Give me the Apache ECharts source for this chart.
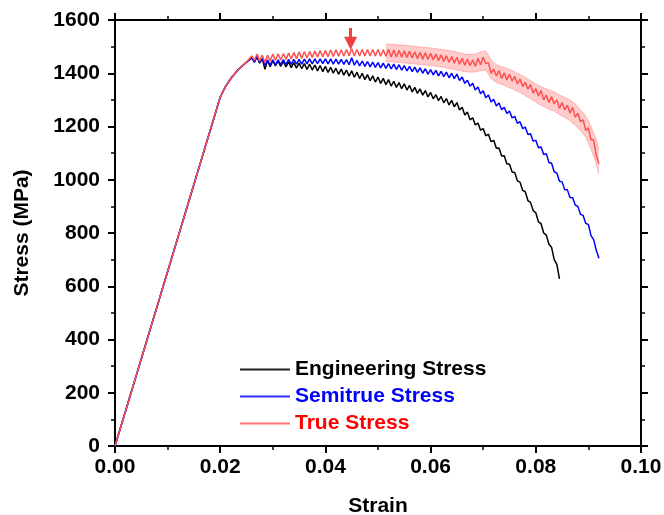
<!DOCTYPE html>
<html>
<head>
<meta charset="utf-8">
<script src="https://cdn.jsdelivr.net/npm/echarts@6/dist/echarts.min.js"></script>
<style>html,body{margin:0;padding:0;background:#fff}#c{width:664px;height:515px}</style>
</head>
<body>
<div id="c"></div>
<script>
// Elastic + transition part (shared by all three curves)
const elasticStrain = [0, 0.0200, 0.0210, 0.0222, 0.0235, 0.0248];
const elasticStress = [0, 1310, 1350, 1385, 1415, 1438];

// Serrated plastic region strain grid
const strain = [
0.026,0.0265,0.027,0.0275,0.028,0.0285,0.029,0.0295,
0.030,0.0305,0.031,0.0315,0.032,0.0325,0.033,0.0335,0.034,0.0345,0.035,0.0355,0.036,0.0365,0.037,0.0375,0.038,0.0385,0.039,0.0395,
0.040,0.0405,0.041,0.0415,0.042,0.0425,0.043,0.0435,0.044,0.0445,0.045,0.0455,0.046,0.0465,0.047,0.0475,0.048,0.0485,0.049,0.0495,
0.050,0.0505,0.051,0.0515,0.052,0.0525,0.053,0.0535,0.054,0.0545,0.055,0.0555,0.056,0.0565,0.057,0.0575,0.058,0.0585,0.059,0.0595,
0.060,0.0605,0.061,0.0615,0.062,0.0625,0.063,0.0635,0.064,0.0645,0.065,0.0655,0.066,0.0665,0.067,0.0675,0.068,0.0685,0.069,0.0695,
0.070,0.0705,0.071,0.0715,0.072,0.0725,0.073,0.0735,0.074,0.0745,0.075,0.0755,0.076,0.0765,0.077,0.0775,0.078,0.0785,0.079,0.0795,
0.080,0.0805,0.081,0.0815,0.082,0.0825,0.083,0.0835,0.084,0.0845,0.085,0.0855,0.086,0.0865,0.087,0.0875,0.088,0.0885,0.089,0.0895,
0.090,0.0905,0.091,0.0915,0.092];

const engStress = [
1458,1442,1462,1438,1455,1415,1448,1425,1447,1428,
1446,1426,1445,1424,1443,1421,1440,1419,1438,1417,
1436,1414,1434,1412,1431,1409,1429,1406,1426,1403,
1422,1400,1419,1396,1416,1393,1412,1389,1409,1385,
1404,1380,1400,1376,1395,1372,1390,1367,1386,1362,
1381,1357,1376,1352,1370,1347,1365,1342,1360,1337,
1354,1330,1347,1324,1341,1318,1335,1311,1328,1304,
1320,1297,1313,1289,1305,1281,1298,1274,1290,1262,
1272,1243,1254,1225,1233,1206,1213,1186,1192,1165,
1171,1143,1148,1118,1119,1089,1090,1060,1058,1029,
1027,996,991,960,955,922,915,884,876,842,
835,800,792,758,746,700,682,628];

const semiStress = [
1460,1442,1466,1440,1455,1428,1450,1430,1450,1431,
1450,1432,1451,1432,1452,1433,1452,1434,1452,1434,
1453,1435,1454,1435,1454,1436,1454,1436,1454,1435,
1454,1434,1453,1434,1452,1433,1451,1432,1458,1430,
1448,1428,1446,1426,1444,1424,1442,1422,1440,1420,
1438,1418,1436,1416,1434,1414,1432,1412,1429,1409,
1426,1406,1423,1403,1420,1400,1417,1397,1414,1394,
1411,1390,1407,1387,1404,1383,1400,1380,1397,1373,
1386,1362,1374,1351,1362,1337,1348,1323,1334,1308,
1318,1292,1302,1277,1288,1263,1272,1249,1258,1232,
1238,1212,1218,1192,1198,1170,1173,1145,1148,1120,
1123,1095,1098,1065,1062,1030,1025,994,992,962,
962,933,932,905,900,870,866,836,832,790,
775,735,705];

const trueStress = [
1465,1448,1472,1445,1468,1440,1468,1446,1472,1449,
1473,1450,1474,1452,1476,1454,1478,1455,1480,1456,
1481,1457,1482,1459,1484,1460,1485,1461,1486,1462,
1487,1463,1488,1464,1488,1465,1489,1466,1492,1465,
1489,1465,1489,1465,1489,1465,1489,1465,1489,1464,
1488,1464,1490,1461,1487,1461,1486,1460,1484,1459,
1483,1457,1481,1455,1479,1453,1477,1452,1475,1450,
1472,1447,1469,1444,1466,1441,1463,1438,1460,1434,
1456,1430,1453,1428,1450,1426,1456,1432,1460,1436,
1440,1400,1415,1390,1410,1380,1402,1375,1396,1370,
1388,1360,1378,1350,1366,1340,1358,1325,1342,1315,
1335,1300,1318,1290,1312,1285,1300,1268,1290,1262,
1280,1250,1272,1235,1250,1218,1225,1185,1195,1150,
1150,1090,1060];

// Scatter band around the true stress curve
const bandStrain = [0.0515,0.0525,0.0535,0.0545,0.0555,0.0565,0.0575,0.0585,0.0595,0.0605,0.0615,0.0625,0.0635,0.0645,0.0655,0.0665,0.0675,0.0685,0.0695,0.0705,0.0715,0.0725,0.0735,0.0745,0.0755,0.0765,0.0775,0.0785,0.0795,0.0805,0.0815,0.0825,0.0835,0.0845,0.0855,0.0865,0.0875,0.0885,0.0895,0.0905,0.0915,0.092];
const bandLow  = [1444,1443,1441,1440,1438,1436,1434,1432,1430,1428,1425,1422,1418,1415,1410,1406,1404,1405,1410,1412,1380,1365,1358,1350,1342,1332,1322,1310,1298,1285,1275,1265,1258,1245,1235,1222,1205,1185,1160,1115,1060,1020];
const bandHigh = [1510,1509,1507,1506,1504,1502,1500,1498,1496,1494,1491,1488,1485,1482,1477,1472,1470,1472,1480,1484,1450,1432,1425,1418,1410,1400,1390,1378,1366,1354,1345,1338,1330,1318,1310,1300,1285,1262,1240,1200,1150,1115];

// Arrow marker (strain, stress top, stress head)
const arrowStrain = 0.0448;
const arrowTop = 1570;
const arrowEnd = 1513;

const seriesNames = ['Engineering Stress', 'Semitrue Stress', 'True Stress'];
const lineColors = ['#000000', '#0000ff', '#ff5050'];
const legendColors = ['#222222', '#3030ff', '#ff7070'];
const textColors = ['#000000', '#0000ff', '#ff0000'];

function build(vals) {
  const d = [];
  for (let i = 0; i < elasticStrain.length; i++) d.push([elasticStrain[i], elasticStress[i]]);
  for (let i = 0; i < vals.length; i++) d.push([strain[i], vals[i]]);
  return d;
}
const bandData = bandStrain.map((x, i) => [x, bandLow[i], bandHigh[i]]);

function renderBand(params, api) {
  if (params.dataIndex !== 0) return null;
  const upper = [], lower = [];
  for (let i = 0; i < bandData.length; i++) {
    upper.push(api.coord([bandData[i][0], bandData[i][2]]));
    lower.push(api.coord([bandData[i][0], bandData[i][1]]));
  }
  const poly = upper.concat(lower.slice().reverse());
  return {
    type: 'group',
    children: [
      { type: 'polygon', shape: { points: poly }, style: { fill: 'rgba(255,120,120,0.38)', stroke: null } },
      { type: 'polyline', shape: { points: upper }, style: { stroke: 'rgba(255,110,110,0.55)', lineWidth: 0.8, fill: null } },
      { type: 'polyline', shape: { points: lower }, style: { stroke: 'rgba(255,110,110,0.55)', lineWidth: 0.8, fill: null } }
    ]
  };
}

const FONT = '"Liberation Sans", Arial, sans-serif';
const axisCommon = {
  axisLine: { show: true, onZero: false, lineStyle: { color: '#000', width: 2 } },
  axisTick: { show: true, inside: false, length: 7, lineStyle: { color: '#000', width: 2 } },
  minorTick: { show: true, splitNumber: 2, length: 4, lineStyle: { color: '#000', width: 1.5 } },
  splitLine: { show: false },
  minorSplitLine: { show: false }
};

const chart = echarts.init(document.getElementById('c'), null, { renderer: 'canvas' });
chart.setOption({
  animation: false,
  backgroundColor: '#fff',
  grid: { left: 115, right: 23, top: 20, bottom: 69, containLabel: false, outerBoundsMode: 'none' },
  legend: {
    orient: 'vertical',
    left: 235,
    top: 354,
    icon: 'rect',
    itemWidth: 50,
    itemHeight: 2,
    itemGap: 6,
    selectedMode: false,
    textStyle: { fontFamily: FONT, fontWeight: 'bold', fontSize: 21, lineHeight: 21 },
    data: seriesNames.map((n, i) => ({ name: n, itemStyle: { color: legendColors[i] }, textStyle: { color: textColors[i] } }))
  },
  xAxis: [
    Object.assign({}, axisCommon, {
      type: 'value', min: 0, max: 0.1, interval: 0.02, position: 'bottom',
      name: 'Strain', nameLocation: 'middle', nameGap: 50,
      nameTextStyle: { fontFamily: FONT, fontWeight: 'bold', fontSize: 21, color: '#000' },
      axisLabel: { fontFamily: FONT, fontWeight: 'bold', fontSize: 21, color: '#000', margin: 11,
        formatter: v => v.toFixed(2) }
    }),
    Object.assign({}, axisCommon, {
      type: 'value', min: 0, max: 0.1, interval: 0.02, position: 'top',
      axisLabel: { show: false }
    })
  ],
  yAxis: [
    Object.assign({}, axisCommon, {
      type: 'value', min: 0, max: 1600, interval: 200, position: 'left',
      name: 'Stress (MPa)', nameLocation: 'middle', nameGap: 82, nameRotate: 90,
      nameTextStyle: { fontFamily: FONT, fontWeight: 'bold', fontSize: 21, color: '#000' },
      axisLabel: { fontFamily: FONT, fontWeight: 'bold', fontSize: 21, color: '#000', margin: 15,
        formatter: v => String(v) }
    }),
    Object.assign({}, axisCommon, {
      type: 'value', min: 0, max: 1600, interval: 200, position: 'right',
      axisLabel: { show: false }
    })
  ],
  series: [
    {
      name: 'band', type: 'custom', xAxisIndex: 0, yAxisIndex: 0, silent: true,
      data: bandData, renderItem: renderBand, encode: { x: 0, y: [1, 2] }, z: 1, clip: true
    },
    {
      name: seriesNames[0], type: 'line', data: build(engStress), symbol: 'none',
      lineStyle: { color: lineColors[0], width: 1.5 }, itemStyle: { color: lineColors[0] }, z: 3
    },
    {
      name: seriesNames[1], type: 'line', data: build(semiStress), symbol: 'none',
      lineStyle: { color: lineColors[1], width: 1.5 }, itemStyle: { color: lineColors[1] }, z: 4
    },
    {
      name: seriesNames[2], type: 'line', data: build(trueStress), symbol: 'none',
      lineStyle: { color: lineColors[2], width: 1.5 }, itemStyle: { color: lineColors[2] }, z: 5,
      markLine: {
        silent: true,
        symbol: ['none', 'triangle'],
        symbolSize: 13,
        label: { show: false },
        lineStyle: { color: '#f04040', width: 3, type: 'solid' },
        data: [[{ coord: [arrowStrain, arrowTop] }, { coord: [arrowStrain, arrowEnd] }]]
      }
    }
  ]
});
</script>
</body>
</html>
